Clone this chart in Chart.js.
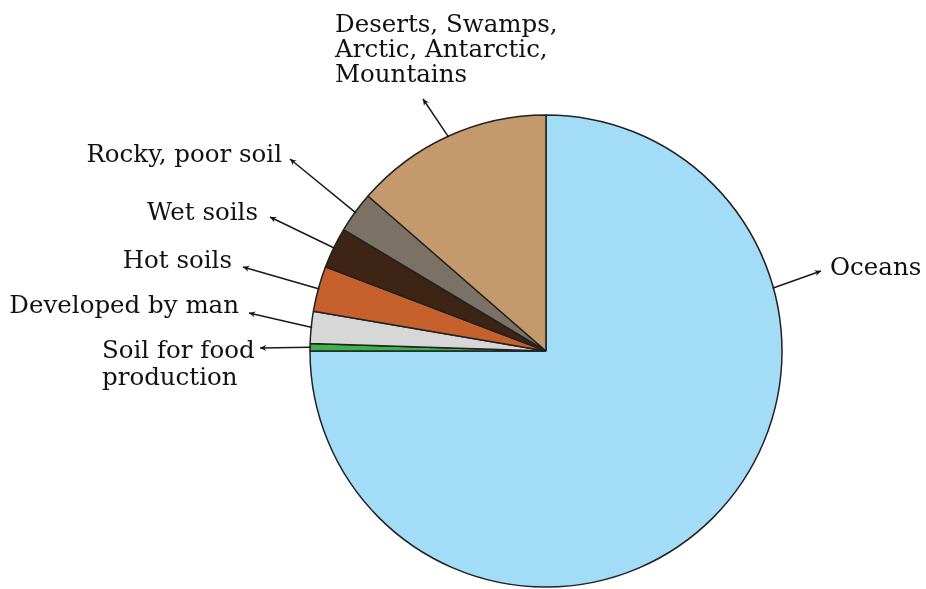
<!DOCTYPE html>
<html lang="en">
<head>
<meta charset="UTF-8">
<title>Land and water</title>
<script src="https://cdn.jsdelivr.net/npm/chart.js"></script>
<style>
  html, body { margin: 0; padding: 0; background: #fff; }
  #wrap { width: 926px; height: 589px; }
</style>
</head>
<body>
<div id="wrap"><canvas id="pie"></canvas></div>
<script>
// data (percent of the earth's surface)
var categories = ['Oceans', 'Soil for food production', 'Developed by man', 'Hot soils',
                  'Wet soils', 'Rocky, poor soil', 'Deserts, Swamps, Arctic, Antarctic, Mountains'];
var shares = [75, 0.5, 2.2, 3.1, 2.8, 2.8, 13.6];
var colors = ['#a2dcf7', '#3cb44a', '#d7d7d7', '#c6602c', '#3d2414', '#7b7165', '#c49a6c'];

// label text as printed (line breaks) and where it sits
var labelLines = [
    ['Oceans'],
    ['Soil for food', 'production'],
    ['Developed by man'],
    ['Hot soils'],
    ['Wet soils'],
    ['Rocky, poor soil'],
    ['Deserts, Swamps,', 'Arctic, Antarctic,', 'Mountains']
];
// [textX, firstBaselineY, align, lineHeight, arrowTipX, arrowTipY, leaderAngleOverride]
var labelPlace = [
    [830, 275, 'left', 27, 821, 271, -0.27],
    [102, 358, 'left', 27, 260, 348, null],
    [239, 313, 'right', 27, 249, 313, null],
    [232, 268, 'right', 27, 243, 267, null],
    [258, 220, 'right', 27, 270, 217, null],
    [282, 162, 'right', 27, 290, 159, null],
    [335, 32, 'left', 25, 423, 99, null]
];

var leaderPlugin = {
    id: 'leaders',
    afterDatasetsDraw: function (chart) {
        var ctx = chart.ctx;
        var arcs = chart.getDatasetMeta(0).data;
        ctx.save();
        ctx.strokeStyle = '#1a1a1a';
        ctx.fillStyle = '#111';
        ctx.lineWidth = 1.5;
        ctx.font = '24.5px "DejaVu Serif"';
        arcs.forEach(function (arc, i) {
            var p = arc.getProps(['x', 'y', 'startAngle', 'endAngle', 'outerRadius'], true);
            var place = labelPlace[i];
            var ang = place[6] !== null ? place[6] : (p.startAngle + p.endAngle) / 2;
            var sx = p.x + Math.cos(ang) * (p.outerRadius - 1);
            var sy = p.y + Math.sin(ang) * (p.outerRadius - 1);
            var tx = place[4], ty = place[5];
            ctx.beginPath();
            ctx.moveTo(sx, sy);
            ctx.lineTo(tx, ty);
            ctx.stroke();
            // small arrowhead at the label end
            var a = Math.atan2(ty - sy, tx - sx);
            var hl = 7, hw = 0.45;
            ctx.beginPath();
            ctx.moveTo(tx, ty);
            ctx.lineTo(tx - hl * Math.cos(a - hw), ty - hl * Math.sin(a - hw));
            ctx.lineTo(tx - hl * 0.6 * Math.cos(a), ty - hl * 0.6 * Math.sin(a));
            ctx.lineTo(tx - hl * Math.cos(a + hw), ty - hl * Math.sin(a + hw));
            ctx.closePath();
            ctx.fill();

            ctx.textAlign = place[2];
            ctx.textBaseline = 'alphabetic';
            labelLines[i].forEach(function (line, k) {
                ctx.fillText(line, place[0], place[1] + k * place[3]);
            });
        });
        ctx.restore();
    }
};

new Chart(document.getElementById('pie'), {
    type: 'pie',
    data: {
        labels: categories,
        datasets: [{
            data: shares,
            backgroundColor: colors,
            borderColor: '#222',
            borderWidth: 1.5
        }]
    },
    options: {
        responsive: true,
        maintainAspectRatio: false,
        animation: false,
        radius: 236,
        layout: { padding: { left: 310, right: 144, top: 115, bottom: 2 } },
        plugins: {
            legend: { display: false },
            tooltip: { enabled: false }
        }
    },
    plugins: [leaderPlugin]
});
</script>
</body>
</html>
